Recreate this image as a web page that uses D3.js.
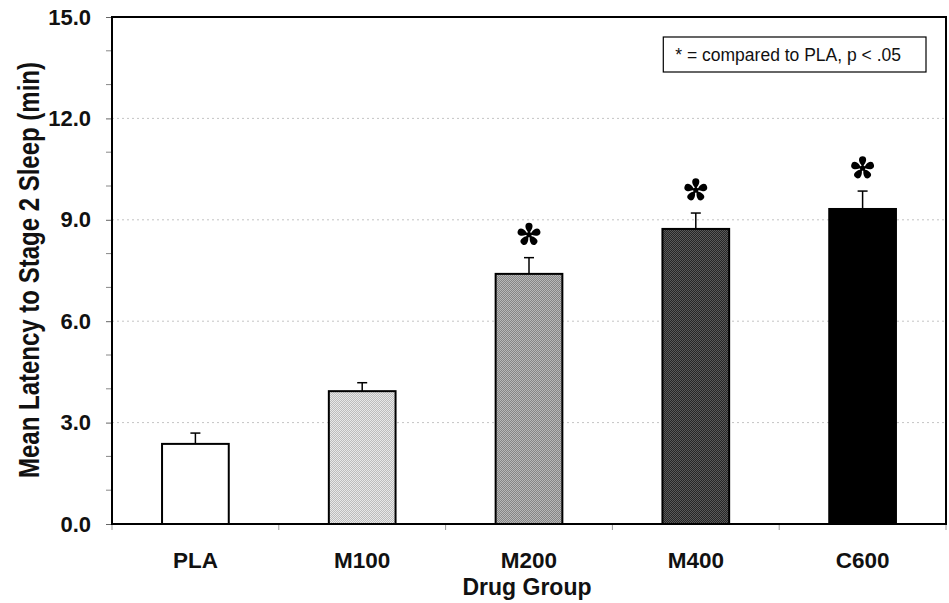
<!DOCTYPE html>
<html>
<head>
<meta charset="utf-8">
<script src="https://cdn.jsdelivr.net/npm/d3@7"></script>
<style>
  body { margin: 0; background: #fff; }
  text { font-family: "Liberation Sans", Arial, sans-serif; }
</style>
</head>
<body>
<div id="chart"></div>
<script>
// chart data
var groups = ['PLA', 'M100', 'M200', 'M400', 'C600'];
var means = [2.37, 3.93, 7.40, 8.73, 9.32];
var sems = [0.32, 0.25, 0.48, 0.47, 0.53];
var significant = [false, false, true, true, true];
var yTicks = [0, 3, 6, 9, 12, 15];
var yMinorTicks = [1, 2, 4, 5, 7, 8, 10, 11, 13, 14];

var svgWidth = 949;
var svgHeight = 603;
var margin = { top: 17, right: 3, bottom: 79, left: 112 };
var plotW = svgWidth - margin.left - margin.right;
var plotH = svgHeight - margin.top - margin.bottom;

var svg = d3.select('#chart')
  .append('svg')
  .attr('width', svgWidth)
  .attr('height', svgHeight);

// fill textures for the bars (two-tone stipple)
var fills = [
  { id: 'f0', a: '#ffffff', b: '#ffffff' },
  { id: 'f1', a: '#e8e8e8', b: '#bcbcbc' },
  { id: 'f2', a: '#b8b8b8', b: '#858585' },
  { id: 'f3', a: '#5a5a5a', b: '#262626' },
  { id: 'f4', a: '#000000', b: '#000000' }
];
var defs = svg.append('defs');
fills.forEach(function (f) {
  var p = defs.append('pattern')
    .attr('id', f.id)
    .attr('width', 2).attr('height', 2)
    .attr('patternUnits', 'userSpaceOnUse');
  p.append('rect').attr('width', 2).attr('height', 2).attr('fill', f.a);
  p.append('rect').attr('width', 1).attr('height', 1).attr('fill', f.b);
  p.append('rect').attr('x', 1).attr('y', 1).attr('width', 1).attr('height', 1).attr('fill', f.b);
});

var g = svg.append('g')
  .attr('transform', 'translate(' + margin.left + ',' + margin.top + ')');

var x = d3.scaleBand()
  .domain(groups)
  .range([0, plotW])
  .paddingInner(0.6)
  .paddingOuter(0.3);

var xEdge = d3.scaleLinear()
  .domain([0, groups.length])
  .range([0, plotW]);

var y = d3.scaleLinear()
  .domain([0, 15])
  .range([plotH, 0]);

// dotted grid lines
g.selectAll('line.grid')
  .data(yTicks.filter(function (d) { return d > 0 && d < 15; }))
  .enter()
  .append('line')
  .attr('class', 'grid')
  .attr('x1', 0).attr('x2', plotW)
  .attr('y1', function (d) { return y(d); })
  .attr('y2', function (d) { return y(d); })
  .attr('stroke', '#c4c4c4')
  .attr('stroke-width', 1)
  .attr('stroke-dasharray', '2,3');

// y axis
var yAxis = d3.axisLeft(y)
  .tickValues(yTicks)
  .tickSize(6)
  .tickPadding(15)
  .tickFormat(d3.format('.1f'));
var ya = g.append('g').call(yAxis);
ya.select('.domain').remove();
ya.selectAll('line').attr('stroke', '#666');
ya.selectAll('text')
  .attr('font-size', 22)
  .attr('font-weight', 'bold')
  .attr('fill', '#111');

g.append('g')
  .selectAll('line')
  .data(yMinorTicks)
  .enter()
  .append('line')
  .attr('x1', -6).attr('x2', 0)
  .attr('y1', function (d) { return y(d); })
  .attr('y2', function (d) { return y(d); })
  .attr('stroke', '#888');

// x axis ticks between groups
g.append('g')
  .selectAll('line')
  .data(d3.range(groups.length + 1))
  .enter()
  .append('line')
  .attr('x1', function (d) { return xEdge(d); })
  .attr('x2', function (d) { return xEdge(d); })
  .attr('y1', plotH).attr('y2', plotH + 6)
  .attr('stroke', '#999');

// bars
g.selectAll('rect.bar')
  .data(means)
  .enter()
  .append('rect')
  .attr('class', 'bar')
  .attr('x', function (d, i) { return x(groups[i]); })
  .attr('width', x.bandwidth())
  .attr('y', function (d) { return y(d); })
  .attr('height', function (d) { return plotH - y(d); })
  .attr('fill', function (d, i) { return 'url(#' + fills[i].id + ')'; })
  .attr('stroke', '#000')
  .attr('stroke-width', 2);

// error bars (upper half only)
var err = g.append('g').selectAll('g')
  .data(means)
  .enter()
  .append('g');
err.append('line')
  .attr('x1', function (d, i) { return x(groups[i]) + x.bandwidth() / 2; })
  .attr('x2', function (d, i) { return x(groups[i]) + x.bandwidth() / 2; })
  .attr('y1', function (d) { return y(d); })
  .attr('y2', function (d, i) { return y(d + sems[i]); })
  .attr('stroke', '#000')
  .attr('stroke-width', 1.5);
err.append('line')
  .attr('x1', function (d, i) { return x(groups[i]) + x.bandwidth() / 2 - 5; })
  .attr('x2', function (d, i) { return x(groups[i]) + x.bandwidth() / 2 + 5; })
  .attr('y1', function (d, i) { return y(d + sems[i]); })
  .attr('y2', function (d, i) { return y(d + sems[i]); })
  .attr('stroke', '#000')
  .attr('stroke-width', 1.5);

// asterisks: five teardrop petals joined at the centre
var stars = g.append('g').selectAll('g')
  .data(means.filter(function (d, i) { return significant[i]; }))
  .enter()
  .append('g')
  .attr('transform', function (d) {
    var i = means.indexOf(d);
    return 'translate(' + (x(groups[i]) + x.bandwidth() / 2) + ',' + (y(d + sems[i]) - 23) + ')';
  });
stars.selectAll('path')
  .data([0, 72, 144, 216, 288])
  .enter()
  .append('path')
  .attr('d', 'M0,0 L-1.3,-3 C-4.6,-7 -4.4,-11.8 0,-11.8 C4.4,-11.8 4.6,-7 1.3,-3 Z')
  .attr('transform', function (a) { return 'rotate(' + a + ')'; })
  .attr('fill', '#000');
stars.append('circle').attr('r', 2.6).attr('fill', '#000');

// x labels
g.selectAll('text.xlab')
  .data(groups)
  .enter()
  .append('text')
  .attr('class', 'xlab')
  .attr('x', function (d) { return x(d) + x.bandwidth() / 2; })
  .attr('y', plotH + 44)
  .attr('text-anchor', 'middle')
  .attr('font-size', 22.5)
  .attr('font-weight', 'bold')
  .attr('fill', '#111')
  .text(function (d) { return d; });

// frame: left + bottom axis, top + right border
g.append('rect')
  .attr('x', 0).attr('y', 0)
  .attr('width', plotW).attr('height', plotH)
  .attr('fill', 'none')
  .attr('stroke', '#000')
  .attr('stroke-width', 2);

// axis titles
svg.append('text')
  .attr('x', margin.left + plotW / 2 - 2)
  .attr('y', 595)
  .attr('text-anchor', 'middle')
  .attr('font-size', 23)
  .attr('font-weight', 'bold')
  .attr('fill', '#111')
  .text('Drug Group');

svg.append('text')
  .attr('transform', 'translate(39,270) rotate(-90) scale(1,1.2)')
  .attr('text-anchor', 'middle')
  .attr('font-size', 24)
  .attr('font-weight', 'bold')
  .attr('fill', '#111')
  .text('Mean Latency to Stage 2 Sleep (min)');

// legend box
var legend = svg.append('g');
var lt = legend.append('text')
  .attr('x', 901).attr('y', 61)
  .attr('text-anchor', 'end')
  .attr('font-size', 17.5)
  .attr('fill', '#111')
  .text('* = compared to PLA, p < .05');
var bb = lt.node().getBBox();
legend.insert('rect', 'text')
  .attr('x', bb.x - 12).attr('y', 37)
  .attr('width', 926 - (bb.x - 12))
  .attr('height', 35)
  .attr('fill', '#fff')
  .attr('stroke', '#000')
  .attr('stroke-width', 1.2);
</script>
</body>
</html>
